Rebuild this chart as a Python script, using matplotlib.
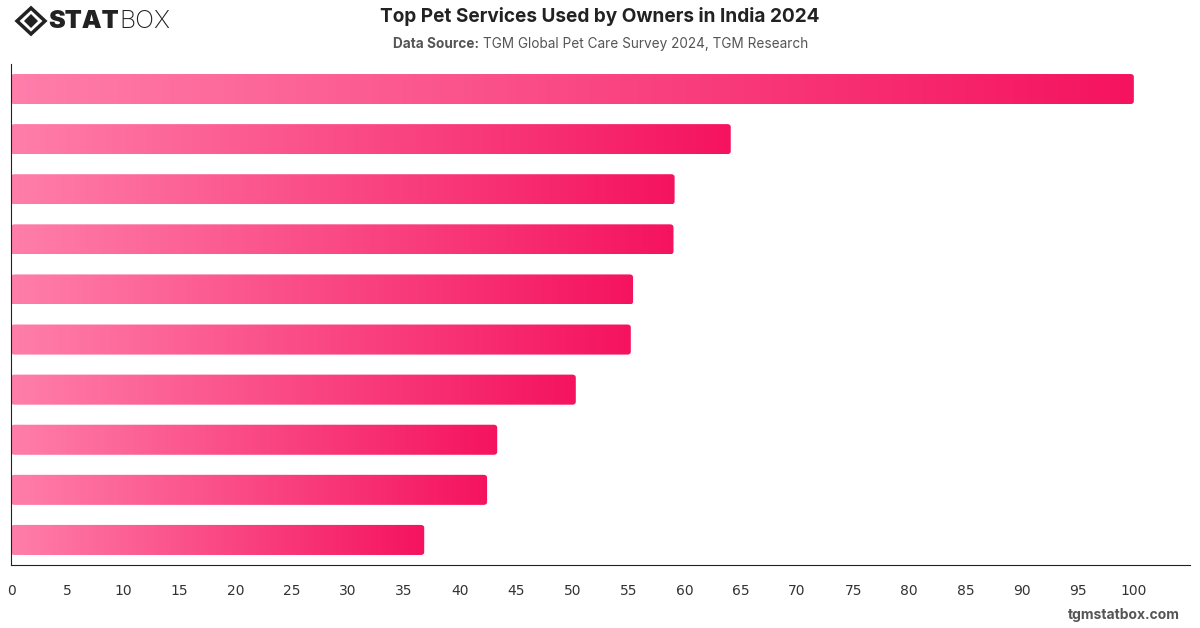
import numpy as np
import matplotlib
matplotlib.use("Agg")
import matplotlib.pyplot as plt
from matplotlib.patches import FancyBboxPatch, Polygon
from matplotlib.colors import LinearSegmentedColormap

# values (top to bottom), category labels are not shown
values = [100, 64.1, 59.1, 59.0, 55.4, 55.2, 50.3, 43.3, 42.4, 36.8]
xticks = list(range(0, 101, 5))

fig = plt.figure(figsize=(12, 6.28), dpi=100)
ax = fig.add_axes([11/1200, (628-565)/628, (1190-11)/1200, (565-64)/628])

cmap = LinearSegmentedColormap.from_list("pinkgrad", ["#ff7eaa", "#f5135f"])
grad = np.linspace(0, 1, 256).reshape(1, -1)

n = len(values)
h = 0.6
for i, v in enumerate(values):
    y = n - 1 - i
    patch = FancyBboxPatch((0, y - h/2), v, h,
                           boxstyle="round,pad=0,rounding_size=0.3",
                           mutation_aspect=0.2, facecolor="none",
                           edgecolor="none")
    ax.add_patch(patch)
    im = ax.imshow(grad, cmap=cmap, aspect="auto",
                   extent=(0, v, y - h/2, y + h/2), interpolation="bilinear")
    im.set_clip_path(patch)

ax.set_xlim(0, 105)
ax.set_ylim(-0.5, n - 0.5)
ax.set_xticks(xticks)
ax.set_xticklabels([str(t) for t in xticks], fontsize=10, color="#333333")
ax.tick_params(axis="x", length=0, pad=14)
ax.set_yticks([])
for s in ["top", "right"]:
    ax.spines[s].set_visible(False)
ax.spines["left"].set_color("#222222")
ax.spines["bottom"].set_color("#222222")

# title and subtitle
fig.text(0.5, 1 - 17/628, "Top Pet Services Used by Owners in India 2024",
         ha="center", va="center", fontsize=13.7, fontweight="bold",
         color="#222222", family="Inter")
fig.text(393/1200, 1 - 44/628, "Data Source:", ha="left", va="center",
         fontsize=9.8, fontweight="bold", color="#555555", family="Inter")
fig.text(483/1200, 1 - 44/628, "TGM Global Pet Care Survey 2024, TGM Research",
         ha="left", va="center", fontsize=9.8, color="#555555", family="Inter")

# logo (display coords, origin bottom-left)
lx, ly = 31, 628 - 21
diamond = Polygon([(lx - 14, ly), (lx, ly + 13), (lx + 14, ly), (lx, ly - 13)],
                  closed=True, transform=None, facecolor="none",
                  edgecolor="#222222", linewidth=2.5)
inner = Polygon([(lx - 7, ly), (lx, ly + 7), (lx + 7, ly), (lx, ly - 7)],
                closed=True, transform=None, facecolor="#222222",
                edgecolor="none")
fig.patches.extend([diamond, inner])
stat = fig.text(48/1200, 1 - 21/628, "STAT", ha="left", va="center",
                fontsize=18, fontweight="black", color="#222222", family="Inter")
fig.canvas.draw()
bb = stat.get_window_extent()
fig.text(bb.x1/1200 + 1/1200, 1 - 21/628, "BOX", ha="left", va="center",
         fontsize=18, fontweight="light", color="#222222", family="Inter")

fig.text(1180/1200, 1 - 615/628, "tgmstatbox.com", ha="right", va="center",
         fontsize=10, fontweight="bold", color="#555555", family="Inter")

fig.savefig("out.png", dpi=100, facecolor="white")
